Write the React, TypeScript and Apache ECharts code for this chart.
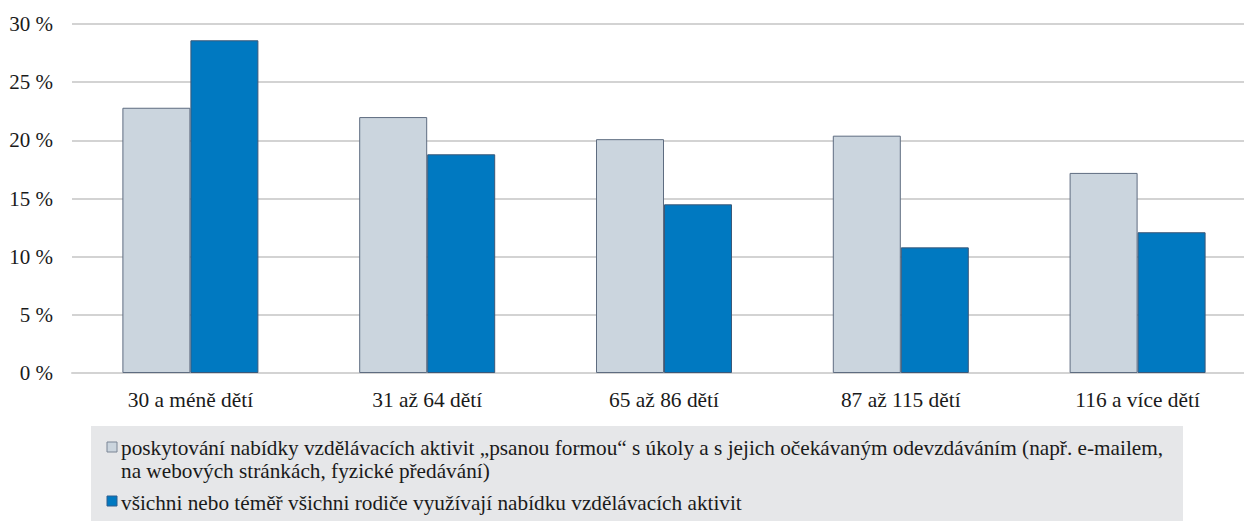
import React, { useEffect, useRef } from "react";
import * as echarts from "echarts";

const categories = ["30 a méně dětí", "31 až 64 dětí", "65 až 86 dětí", "87 až 115 dětí", "116 a více dětí"];
const writtenForm = [22.8, 22.0, 20.1, 20.4, 17.2];
const allParents = [28.6, 18.8, 14.5, 10.8, 12.1];
const seriesNames = [
  "poskytování nabídky vzdělávacích aktivit „psanou formou“ s úkoly a s jejich očekávaným odevzdáváním (např. e-mailem,\nna webových stránkách, fyzické předávání)",
  "všichni nebo téměř všichni rodiče využívají nabídku vzdělávacích aktivit",
];
const yTickSuffix = " %";

const FONT = "Liberation Serif";
const GREY = "#cbd5de";
const BLUE = "#0079c1";

export default function App() {
  const ref = useRef<HTMLDivElement>(null);
  useEffect(() => {
    if (!ref.current) return;
    const chart = echarts.init(ref.current, undefined, { renderer: "svg" });
    chart.setOption({
      animation: false,
      textStyle: { fontFamily: FONT },
      grid: { left: 72, top: 24, right: 0, height: 349, containLabel: false },
      legend: { show: false },
      xAxis: {
        type: "category",
        data: categories,
        axisTick: { show: false },
        axisLine: { lineStyle: { color: "#d3d3d3", width: 2 } },
        axisLabel: { color: "#1a1a1a", fontSize: 21.4, fontFamily: FONT, margin: 16 },
      },
      yAxis: {
        type: "value",
        min: 0,
        max: 30,
        interval: 5,
        axisLine: { show: false },
        axisTick: { show: false },
        splitLine: { lineStyle: { color: "#d3d3d3", width: 2 } },
        axisLabel: {
          color: "#1a1a1a",
          fontSize: 21,
          fontFamily: FONT,
          margin: 19,
          formatter: (v: number) => v + yTickSuffix,
        },
      },
      series: [
        {
          name: seriesNames[0],
          type: "bar",
          data: writtenForm,
          barWidth: 68,
          barGap: "0%",
          itemStyle: { color: GREY, borderColor: "#5e6c80", borderWidth: 1 },
        },
        {
          name: seriesNames[1],
          type: "bar",
          data: allParents,
          barWidth: 68,
          barGap: "0%",
          itemStyle: { color: BLUE, borderColor: "#3b5878", borderWidth: 1 },
        },
      ],
      graphic: [
        {
          type: "rect",
          shape: { x: 91, y: 426, width: 1092, height: 100 },
          style: { fill: "#e6e7e9" },
          silent: true,
        },
        {
          type: "rect",
          shape: { x: 107, y: 442, width: 10, height: 10 },
          style: { fill: GREY, stroke: "#7a8595", lineWidth: 1 },
        },
        {
          type: "rect",
          shape: { x: 107, y: 496, width: 10, height: 10 },
          style: { fill: BLUE, stroke: "#2f5f8f", lineWidth: 1 },
        },
        {
          type: "text",
          x: 121,
          y: 436.75,
          style: {
            text: seriesNames[0],
            fontSize: 21.25,
            fontFamily: FONT,
            fill: "#1a1a1a",
            verticalAlign: "top",
            lineHeight: 22.5,
          },
        },
        {
          type: "text",
          x: 121,
          y: 491.25,
          style: {
            text: seriesNames[1],
            fontSize: 21.25,
            fontFamily: FONT,
            fill: "#1a1a1a",
            verticalAlign: "top",
            lineHeight: 22.5,
          },
        },
      ],
    });
    return () => chart.dispose();
  }, []);
  return (
    <div
      ref={ref}
      style={{ position: "fixed", left: 0, top: 0, width: 1256, height: 521, background: "#fff" }}
    />
  );
}
